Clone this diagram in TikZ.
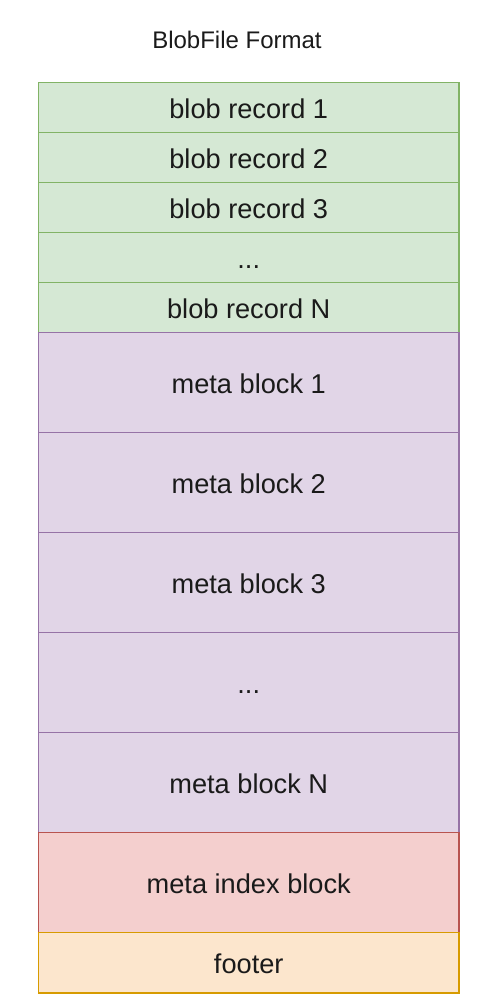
\documentclass[tikz,border=0pt]{standalone}
\usepackage{fontspec}
\setmainfont{Liberation Sans}
\usetikzlibrary{positioning}
\definecolor{recfill}{HTML}{D5E8D4}
\definecolor{recline}{HTML}{82B366}
\definecolor{metafill}{HTML}{E1D5E7}
\definecolor{metaline}{HTML}{9673A6}
\definecolor{idxfill}{HTML}{F4CFCE}
\definecolor{idxline}{HTML}{B85450}
\definecolor{footfill}{HTML}{FCE6CD}
\definecolor{footline}{HTML}{D79B00}
\definecolor{textgray}{HTML}{1A1A1A}

\begin{document}
\begin{tikzpicture}[
      font=\fontsize{13.6}{16}\selectfont, text=textgray,
      row/.style={draw, line width=0.9pt, minimum width=210.25pt,
        inner sep=0pt, outer sep=0pt, text height=11pt, text depth=0pt},
      rec/.style={row, fill=recfill, draw=recline, minimum height=25pt},
      meta/.style={row, fill=metafill, draw=metaline, minimum height=50pt},
      idx/.style={row, fill=idxfill, draw=idxline, minimum height=50pt},
      foot/.style={row, fill=footfill, draw=footline, minimum height=30.25pt}
    ]
    \useasboundingbox (0,0) rectangle (244pt,-503pt);
    \node[font=\fontsize{12}{14}\selectfont] (title) at (118.5pt,-20pt) {BlobFile Format};

    \node[rec, anchor=north] (rec1) at (124.375pt,-41.25pt) {blob record 1};
    \node[rec, below=0pt of rec1] (rec2) {blob record 2};
    \node[rec, below=0pt of rec2] (rec3) {blob record 3};
    \node[rec, below=0pt of rec3] (recdots) {...};
    \node[rec, below=0pt of recdots] (recN) {blob record N};

    \node[meta, below=0pt of recN] (meta1) {meta block 1};
    \node[meta, below=0pt of meta1] (meta2) {meta block 2};
    \node[meta, below=0pt of meta2] (meta3) {meta block 3};
    \node[meta, below=0pt of meta3] (metadots) {...};
    \node[meta, below=0pt of metadots] (metaN) {meta block N};

    \node[idx, below=0pt of metaN] (index) {meta index block};
    \node[foot, below=0pt of index] (footer) {footer};
  \end{tikzpicture}
\end{document}
